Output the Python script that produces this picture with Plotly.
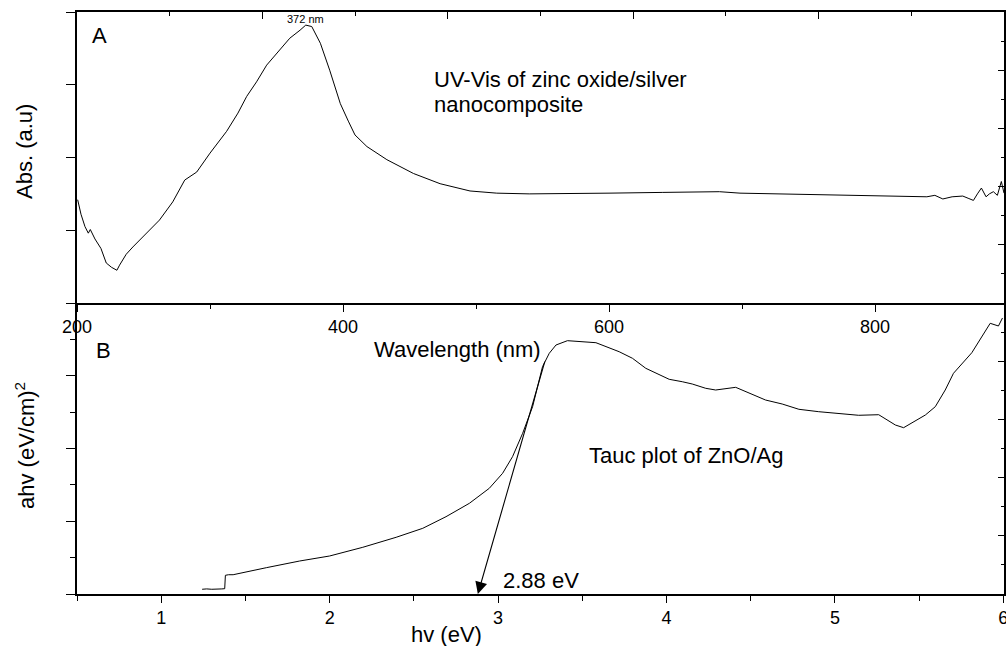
import plotly.graph_objects as go

# ---------------- data ----------------
wavelength_nm = [200.5, 203, 206, 208.5, 210, 213.5, 218, 222, 226, 230, 232, 237, 242,
                 252, 262, 272, 281, 290, 300, 312.5, 321, 327.6, 335, 342.6, 350, 360,
                 367.7, 372, 376.5, 383, 390, 398, 404, 409, 418, 433, 453, 473, 495.5,
                 515.6, 540, 565, 600, 640, 683, 698.5, 730, 763.7, 800, 839, 845, 851,
                 858, 866, 870, 874, 877, 880, 883.5, 886, 889, 892, 895, 897]
absorbance = [1.42, 1.22, 1.05, 0.96, 1.01, 0.88, 0.75, 0.55, 0.49, 0.45, 0.52, 0.67, 0.77,
              0.96, 1.14, 1.39, 1.69, 1.80, 2.06, 2.36, 2.61, 2.84, 3.04, 3.27, 3.43, 3.64,
              3.75, 3.82, 3.80, 3.57, 3.20, 2.74, 2.50, 2.31, 2.15, 1.97, 1.78, 1.64, 1.54,
              1.51, 1.50, 1.50, 1.51, 1.52, 1.53, 1.51, 1.50, 1.48, 1.47, 1.46, 1.48, 1.43,
              1.46, 1.47, 1.44, 1.41, 1.50, 1.58, 1.46, 1.50, 1.53, 1.48, 1.67, 1.51]

photon_energy_ev = [1.243, 1.27, 1.30, 1.33, 1.36, 1.377, 1.381, 1.40, 1.427, 1.624, 1.822,
                    2.0, 2.197, 2.395, 2.553, 2.691, 2.830, 2.948, 3.027, 3.086, 3.146,
                    3.205, 3.264, 3.304, 3.344, 3.412, 3.521, 3.581, 3.719, 3.798, 3.877,
                    4.016, 4.094, 4.153, 4.233, 4.292, 4.411, 4.490, 4.588, 4.687, 4.786,
                    4.904, 5.141, 5.260, 5.359, 5.408, 5.537, 5.596, 5.655, 5.704, 5.813,
                    5.922, 5.971, 5.995]
tauc_ahv = [0.13, 0.14, 0.13, 0.145, 0.14, 0.146, 0.514, 0.53, 0.53, 0.723, 0.907,
            1.045, 1.284, 1.559, 1.806, 2.125, 2.494, 2.906, 3.318, 3.775, 4.418,
            5.149, 6.249, 6.617, 6.845, 6.964, 6.936, 6.909, 6.661, 6.480, 6.205,
            5.902, 5.836, 5.773, 5.655, 5.608, 5.682, 5.518, 5.333, 5.223, 5.078,
            5.012, 4.913, 4.929, 4.646, 4.572, 4.921, 5.149, 5.608, 6.067, 6.634,
            7.442, 7.368, 7.588]

peak_nm = 372
peak_label_y = 3.90
band_gap_ev = 2.88
tangent_top_ev = 3.28
tangent_top_val = 6.43

FONT = "Liberation Sans, Arial, sans-serif"
BLACK = "black"

fig = go.Figure()
fig.add_trace(go.Scatter(x=wavelength_nm, y=absorbance, mode="lines",
                         line=dict(color=BLACK, width=1), xaxis="x", yaxis="y",
                         showlegend=False, hoverinfo="skip"))
fig.add_trace(go.Scatter(x=photon_energy_ev, y=tauc_ahv, mode="lines",
                         line=dict(color=BLACK, width=1), xaxis="x2", yaxis="y2",
                         showlegend=False, hoverinfo="skip"))
# empty traces so the secondary (top / right) frame axes get drawn
for xa, ya in (("x3", "y"), ("x", "y3"), ("x2", "y4")):
    fig.add_trace(go.Scatter(x=[], y=[], mode="lines", xaxis=xa, yaxis=ya,
                             showlegend=False, hoverinfo="skip"))

base = dict(showline=True, linecolor=BLACK, linewidth=1.6, showgrid=False, zeroline=False,
            tickcolor=BLACK, tickwidth=1.4, automargin=False,
            tickfont=dict(family=FONT, size=18, color=BLACK))


def ax(**kw):
    d = dict(base)
    d.update(kw)
    return d


W_PLOT = 1006 - 77 - 2

fig.update_layout(
    width=1006, height=646,
    margin=dict(l=77, r=2, t=12, b=52, autoexpand=False),
    paper_bgcolor="white", plot_bgcolor="white",
    font=dict(family=FONT, color=BLACK),
    showlegend=False,
    xaxis=ax(domain=[0, 1], anchor="y", range=[200, 200 + W_PLOT / 1.33],
             tickmode="linear", tick0=200, dtick=200, ticks="outside", ticklen=7,
             minor=dict(tick0=200, dtick=100, ticks="outside", ticklen=4,
                        tickcolor=BLACK, tickwidth=1.4)),
    xaxis3=ax(overlaying="x", anchor="y", side="top", range=[0, 10],
              tickmode="linear", tick0=0, dtick=2, ticks="inside", ticklen=7,
              showticklabels=False,
              minor=dict(tick0=0, dtick=1, ticks="inside", ticklen=4,
                         tickcolor=BLACK, tickwidth=1.4)),
    yaxis=ax(domain=[0.5, 1], anchor="x", range=[0, 4], tickmode="linear", tick0=0,
             dtick=1, ticks="outside", ticklen=9, showticklabels=False),
    yaxis3=ax(overlaying="y", anchor="x", side="right", range=[0, 10],
              tickmode="linear", tick0=0, dtick=2, ticks="inside", ticklen=6,
              showticklabels=False,
              minor=dict(tick0=0, dtick=1, ticks="inside", ticklen=3,
                         tickcolor=BLACK, tickwidth=1.4)),
    xaxis2=ax(domain=[0, 1], anchor="y2", range=[0.5, 6.004], tickmode="linear",
              tick0=0, dtick=1, ticks="outside", ticklen=7, ticklabeloverflow="allow",
              minor=dict(tick0=0, dtick=0.5, ticks="outside", ticklen=5,
                         tickcolor=BLACK, tickwidth=1.4)),
    yaxis2=ax(domain=[0, 0.5], anchor="x2", range=[0, 8], tickmode="linear", tick0=0,
              dtick=2, ticks="outside", ticklen=9, showticklabels=False,
              minor=dict(tick0=0, dtick=1, ticks="outside", ticklen=5,
                         tickcolor=BLACK, tickwidth=1.4)),
    yaxis4=ax(overlaying="y2", anchor="x2", side="right", range=[0, 10],
              tickmode="linear", tick0=0, dtick=2, ticks="inside", ticklen=6,
              showticklabels=False,
              minor=dict(tick0=0, dtick=1, ticks="inside", ticklen=3,
                         tickcolor=BLACK, tickwidth=1.4)),
)


def px_x(px):
    return (px - 77) / W_PLOT


def px_y(py):
    return (594 - py) / 582


def label(text, px, py, xanchor="left", size=22, angle=0):
    fig.add_annotation(text=text, x=px_x(px), y=px_y(py), xref="paper", yref="paper",
                       xanchor=xanchor, yanchor="middle", showarrow=False,
                       textangle=angle, font=dict(family=FONT, size=size, color=BLACK))


label("A", 90, 36)
label("UV-Vis of zinc oxide/silver", 432, 79)
label("nanocomposite", 432, 104)
label("B", 94, 351)
label("Wavelength (nm)", 457, 350, xanchor="center")
label("Tauc plot of ZnO/Ag", 587, 455)
label("2.88 eV", 501, 580)
label("hv (eV)", 446, 634, xanchor="center")
label("Abs. (a.u)", 24, 152, xanchor="center", angle=-90)
label("ahv (eV/cm)<sup>2</sup>", 25, 446, xanchor="center", angle=-90)

fig.add_annotation(text=f"{peak_nm} nm", x=peak_nm, y=peak_label_y, xref="x", yref="y",
                   showarrow=False, yanchor="middle",
                   font=dict(family=FONT, size=11, color=BLACK))

fig.add_annotation(text="", x=band_gap_ev, y=0, xref="x2", yref="y2",
                   ax=tangent_top_ev, ay=tangent_top_val, axref="x2", ayref="y2",
                   showarrow=True, arrowhead=2, arrowsize=2.2, arrowwidth=1.1,
                   arrowcolor=BLACK, standoff=0)

fig.write_html("out.html", config={"displayModeBar": False},
               post_script="document.body.style.margin='0';"
                           "document.body.style.overflow='hidden';")
